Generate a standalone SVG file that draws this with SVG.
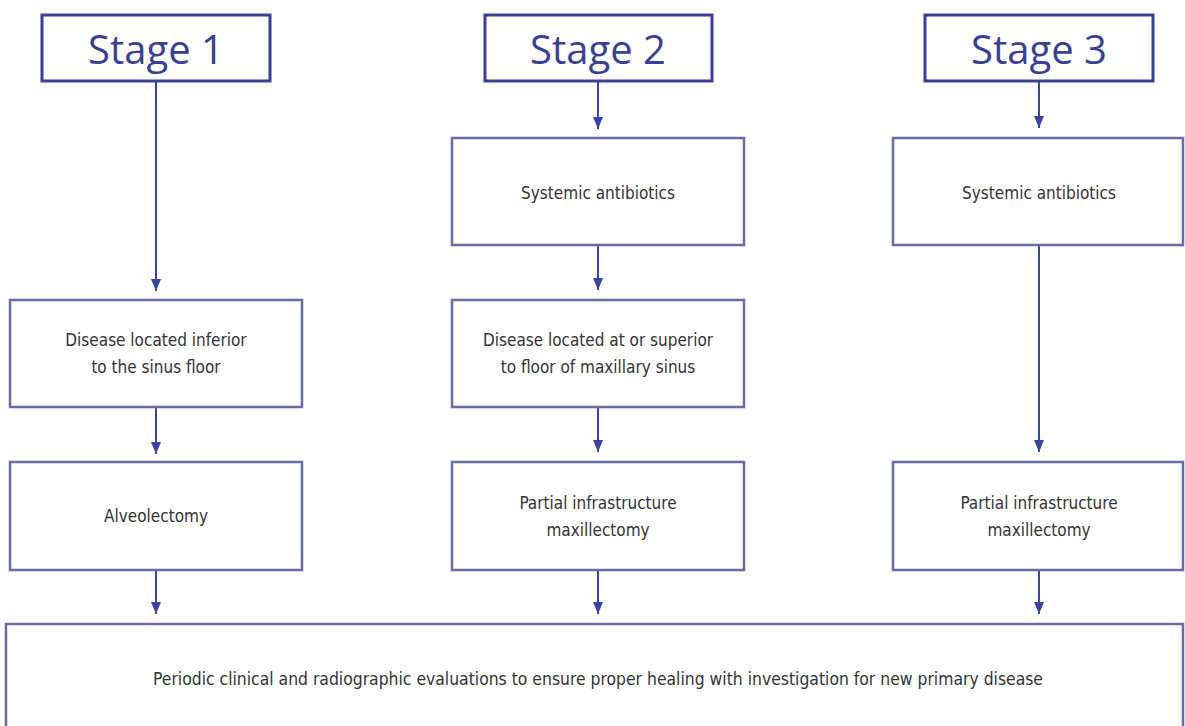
<svg xmlns="http://www.w3.org/2000/svg" width="1185" height="726" viewBox="0 0 1185 726">
<defs>
<marker id="ah" markerWidth="12" markerHeight="10" refX="12" refY="5" orient="auto" markerUnits="userSpaceOnUse" viewBox="0 0 12 10">
<path d="M0,0 L12,5 L0,10 Z" fill="#3a44a6"/>
</marker>
<style>
.stage{fill:#fff;stroke:#3b3f92;stroke-width:3}
.box{fill:#fff;stroke:#6a6aa8;stroke-width:2.5}
.st{font-family:"Open Sans","Noto Sans",sans-serif;font-size:40px;font-weight:500;fill:#3b3f92;text-anchor:middle}
.t{font-family:"Liberation Sans Narrow","DejaVu Sans Condensed","Liberation Sans",sans-serif;font-size:17px;fill:#333;text-anchor:middle}
.c{stroke:#3a44a6;stroke-width:2;fill:none;marker-end:url(#ah)}
</style>
</defs>
<rect width="1185" height="726" fill="#fff"/>
<g id="connectors">
<line class="c" x1="156" y1="82" x2="156" y2="291"/>
<line class="c" x1="156" y1="408" x2="156" y2="454"/>
<line class="c" x1="156" y1="571" x2="156" y2="614"/>
<line class="c" x1="598" y1="82" x2="598" y2="129"/>
<line class="c" x1="598" y1="246" x2="598" y2="290"/>
<line class="c" x1="598" y1="408" x2="598" y2="452"/>
<line class="c" x1="598" y1="571" x2="598" y2="614"/>
<line class="c" x1="1039" y1="82" x2="1039" y2="128"/>
<line class="c" x1="1039" y1="246" x2="1039" y2="452"/>
<line class="c" x1="1039" y1="571" x2="1039" y2="614"/>
</g>
<g id="stage1"><rect class="stage" x="42" y="15" width="228" height="66"/><text class="st" x="156" y="64">Stage 1</text></g>
<g id="stage2"><rect class="stage" x="485" y="15" width="227" height="66"/><text class="st" x="598" y="64">Stage 2</text></g>
<g id="stage3"><rect class="stage" x="925" y="15" width="228" height="66"/><text class="st" x="1039" y="64">Stage 3</text></g>
<g id="s1-disease"><rect class="box" x="10" y="300" width="292" height="107"/><text class="t" x="156" y="346">Disease located inferior</text><text class="t" x="156" y="373">to the sinus floor</text></g>
<g id="s1-alveolectomy"><rect class="box" x="10" y="462" width="292" height="108"/><text class="t" x="156" y="522">Alveolectomy</text></g>
<g id="s2-antibiotics"><rect class="box" x="452" y="138" width="292" height="107"/><text class="t" x="598" y="199">Systemic antibiotics</text></g>
<g id="s2-disease"><rect class="box" x="452" y="300" width="292" height="107"/><text class="t" x="598" y="346">Disease located at or superior</text><text class="t" x="598" y="373">to floor of maxillary sinus</text></g>
<g id="s2-maxillectomy"><rect class="box" x="452" y="462" width="292" height="108"/><text class="t" x="598" y="509">Partial infrastructure</text><text class="t" x="598" y="536">maxillectomy</text></g>
<g id="s3-antibiotics"><rect class="box" x="893" y="138" width="290" height="107"/><text class="t" x="1039" y="199">Systemic antibiotics</text></g>
<g id="s3-maxillectomy"><rect class="box" x="893" y="462" width="290" height="108"/><text class="t" x="1039" y="509">Partial infrastructure</text><text class="t" x="1039" y="536">maxillectomy</text></g>
<g id="followup"><rect class="box" x="6" y="624" width="1177" height="110"/><text class="t" x="598" y="685" textLength="890" lengthAdjust="spacingAndGlyphs">Periodic clinical and radiographic evaluations to ensure proper healing with investigation for new primary disease</text></g>
</svg>
